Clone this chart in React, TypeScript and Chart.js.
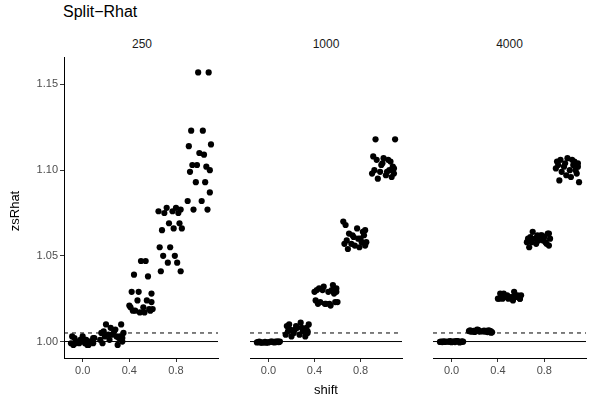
import React, { useEffect, useRef } from "react";
import { Chart, registerables } from "chart.js";
Chart.register(...registerables);

// ---------- data ----------
const FACETS = ["250", "1000", "4000"];
const SHIFTS = [0, 0.25, 0.5, 0.75, 1];
const X_TICKS = [0, 0.4, 0.8];
const Y_TICKS = [1.0, 1.05, 1.1, 1.15];
const SOLID_REF = 1.0;
const DASHED_REF = 1.005;
const X_MIN = -0.16;
const X_MAX = 1.16;
const Y_MIN = 0.9904;
const Y_MAX = 1.166;

// hand-read jitter offsets (geom_jitter, width 0.1)
const JITTER = [-0.08, 0.05, -0.03, 0.09, -0.1, 0.02, 0.07, -0.05, 0.08, -0.01, 0.03, -0.07, 0.1, -0.09, 0.0, 0.04, -0.06, 0.06, -0.02, 0.09];

// n = 250
const r250_s000 = [0.998, 0.998, 0.999, 0.999, 0.999, 0.999, 1.0, 1.0, 1.0, 1.001, 1.001, 1.002, 1.002, 1.003, 1.003, 0.998, 0.999, 1.0, 1.001, 1.002];
const r250_s025 = [1.01, 1.01, 1.008, 1.007, 1.006, 1.005, 1.005, 1.004, 1.003, 1.003, 1.002, 1.001, 1.0, 0.999, 0.998, 1.004, 1.002, 1.001, 1.006, 1.003];
const r250_s050 = [1.047, 1.047, 1.039, 1.038, 1.029, 1.028, 1.029, 1.024, 1.024, 1.023, 1.021, 1.02, 1.019, 1.018, 1.018, 1.017, 1.017, 1.018, 1.019, 1.02];
const r250_s075 = [1.078, 1.078, 1.077, 1.076, 1.076, 1.075, 1.075, 1.069, 1.069, 1.066, 1.065, 1.066, 1.055, 1.055, 1.05, 1.05, 1.046, 1.046, 1.041, 1.041];
const r250_s100 = [1.157, 1.157, 1.123, 1.123, 1.115, 1.114, 1.11, 1.109, 1.103, 1.102, 1.103, 1.1, 1.099, 1.093, 1.093, 1.087, 1.082, 1.082, 1.077, 1.077];

// n = 1000
const r1000_s000 = [0.9998, 0.9995, 1.0, 0.9997, 0.9993, 1.0001, 0.9996, 0.9999, 0.9994, 1.0, 0.9997, 0.9995, 0.9998, 0.9996, 1.0, 0.9993, 0.9997, 0.9999, 0.9995, 0.9998];
const r1000_s025 = [1.011, 1.01, 1.01, 1.009, 1.008, 1.008, 1.007, 1.007, 1.007, 1.006, 1.006, 1.006, 1.005, 1.005, 1.004, 1.004, 1.003, 1.003, 1.008, 1.009];
const r1000_s050 = [1.033, 1.032, 1.031, 1.03, 1.03, 1.03, 1.029, 1.029, 1.029, 1.028, 1.023, 1.023, 1.022, 1.022, 1.022, 1.023, 1.024, 1.022, 1.021, 1.031];
const r1000_s075 = [1.07, 1.066, 1.064, 1.063, 1.062, 1.061, 1.06, 1.059, 1.058, 1.057, 1.056, 1.055, 1.054, 1.058, 1.062, 1.065, 1.068, 1.06, 1.057, 1.056];
const r1000_s100 = [1.118, 1.118, 1.108, 1.107, 1.106, 1.106, 1.105, 1.103, 1.101, 1.1, 1.1, 1.099, 1.098, 1.098, 1.097, 1.096, 1.095, 1.102, 1.104, 1.099];

// n = 4000
const r4000_s000 = [0.9995, 1.0, 0.9998, 1.0002, 0.9997, 1.0001, 0.9999, 1.0, 0.9996, 1.0003, 0.9998, 1.0001, 0.9999, 1.0, 0.9997, 1.0002, 0.9999, 1.0, 0.9998, 1.0001];
const r4000_s025 = [1.0065, 1.006, 1.0058, 1.0062, 1.0055, 1.0068, 1.006, 1.0057, 1.0063, 1.007, 1.0052, 1.0061, 1.0059, 1.0066, 1.0056, 1.0062, 1.0058, 1.0064, 1.006, 1.0054];
const r4000_s050 = [1.028, 1.027, 1.026, 1.025, 1.025, 1.026, 1.027, 1.028, 1.026, 1.025, 1.024, 1.026, 1.027, 1.025, 1.026, 1.029, 1.025, 1.026, 1.027, 1.025];
const r4000_s075 = [1.064, 1.063, 1.062, 1.062, 1.061, 1.06, 1.06, 1.059, 1.059, 1.058, 1.058, 1.057, 1.056, 1.055, 1.061, 1.06, 1.063, 1.058, 1.062, 1.057];
const r4000_s100 = [1.107, 1.106, 1.106, 1.105, 1.104, 1.104, 1.103, 1.103, 1.102, 1.102, 1.101, 1.1, 1.1, 1.099, 1.098, 1.097, 1.096, 1.094, 1.093, 1.105];

const PANEL_VALUES = [
  [r250_s000, r250_s025, r250_s050, r250_s075, r250_s100],
  [r1000_s000, r1000_s025, r1000_s050, r1000_s075, r1000_s100],
  [r4000_s000, r4000_s025, r4000_s050, r4000_s075, r4000_s100],
];

// ---------- layout ----------
const FONT = "'Liberation Sans', Arial, Helvetica, sans-serif";
const PANEL_TOP = 57;
const PANEL_BOTTOM = 358;
const H = 402;
const PANELS = [
  { canvasLeft: 0, canvasWidth: 222, padLeft: 0, yAxisWidth: 64 },
  { canvasLeft: 246, canvasWidth: 160, padLeft: 2, yAxisWidth: 0 },
  { canvasLeft: 429, canvasWidth: 161, padLeft: 2, yAxisWidth: 0 },
];

function Panel({ idx }: { idx: number }) {
  const ref = useRef<HTMLCanvasElement>(null);
  const p = PANELS[idx];
  useEffect(() => {
    if (!ref.current) return;
    const values = PANEL_VALUES[idx];
    const pts: { x: number; y: number }[] = [];
    SHIFTS.forEach((s, i) => {
      values[i].forEach((v, j) => {
        pts.push({ x: s + JITTER[(j + i * 7 + idx * 3) % JITTER.length], y: v });
      });
    });
    const showY = idx === 0;
    const chart = new Chart(ref.current, {
      type: "scatter",
      data: {
        datasets: [
          {
            type: "line",
            data: [{ x: X_MIN, y: SOLID_REF }, { x: X_MAX, y: SOLID_REF }],
            borderColor: "#000",
            borderWidth: 1,
            pointRadius: 0,
            order: 2,
          } as any,
          {
            type: "line",
            data: [{ x: X_MIN, y: DASHED_REF }, { x: X_MAX, y: DASHED_REF }],
            borderColor: "#000",
            borderWidth: 1,
            borderDash: [4, 4],
            pointRadius: 0,
            order: 2,
          } as any,
          {
            data: pts,
            backgroundColor: "#000",
            borderColor: "#000",
            borderWidth: 0,
            pointRadius: 3.1,
            order: 1,
          },
        ],
      },
      options: {
        animation: false,
        responsive: false,
        maintainAspectRatio: false,
        devicePixelRatio: 1,
        layout: { padding: { top: PANEL_TOP, left: p.padLeft, right: 2, bottom: 0 } },
        plugins: { legend: { display: false }, tooltip: { enabled: false }, title: { display: false } },
        scales: {
          x: {
            type: "linear",
            min: X_MIN,
            max: X_MAX,
            afterBuildTicks: (s: any) => {
              s.ticks = X_TICKS.map((v) => ({ value: v }));
            },
            afterFit: (s: any) => {
              s.height = H - PANEL_BOTTOM;
            },
            grid: { drawOnChartArea: false, drawTicks: true, tickLength: 4, tickColor: "#333", color: "#333" },
            border: { display: true, color: "#000", width: 1 },
            ticks: {
              color: "#4d4d4d",
              font: { family: FONT, size: 11 },
              padding: 2,
              maxRotation: 0,
              autoSkip: false,
              callback: (v: any) => Number(v).toFixed(1),
            },
          },
          y: {
            type: "linear",
            display: showY,
            min: Y_MIN,
            max: Y_MAX,
            afterBuildTicks: (s: any) => {
              s.ticks = Y_TICKS.map((v) => ({ value: v }));
            },
            afterFit: (s: any) => {
              s.width = p.yAxisWidth;
            },
            grid: { drawOnChartArea: false, drawTicks: true, tickLength: 4, tickColor: "#333", color: "#333" },
            border: { display: true, color: "#000", width: 1 },
            ticks: {
              color: "#4d4d4d",
              font: { family: FONT, size: 11 },
              padding: 2,
              autoSkip: false,
              callback: (v: any) => Number(v).toFixed(2),
            },
          },
        },
      },
    });
    return () => chart.destroy();
  }, [idx]);
  return (
    <canvas
      ref={ref}
      width={p.canvasWidth}
      height={H}
      style={{ position: "absolute", left: p.canvasLeft, top: 0, width: p.canvasWidth, height: H }}
    />
  );
}

const PANEL_CENTERS = [142, 326, 509.5];

export default function App() {
  return (
    <div style={{ position: "absolute", left: 0, top: 0, width: 596, height: 402, background: "#fff", fontFamily: FONT, overflow: "hidden" }}>
      <div style={{ position: "absolute", left: 63, top: 3, fontSize: 16, color: "#000", whiteSpace: "nowrap" }}>Split−Rhat</div>
      {FACETS.map((f, i) => (
        <div
          key={f}
          style={{ position: "absolute", left: PANEL_CENTERS[i] - 40, width: 80, top: 37, textAlign: "center", fontSize: 12, color: "#1a1a1a" }}
        >
          {f}
        </div>
      ))}
      {PANELS.map((_, i) => (
        <Panel key={i} idx={i} />
      ))}
      <div
        style={{
          position: "absolute",
          left: 15 - 40,
          top: 211 - 9,
          width: 80,
          height: 18,
          textAlign: "center",
          fontSize: 13,
          color: "#000",
          transform: "rotate(-90deg)",
          lineHeight: "18px",
        }}
      >
        zsRhat
      </div>
      <div style={{ position: "absolute", left: 326 - 40, width: 80, top: 381, textAlign: "center", fontSize: 13, color: "#000", lineHeight: "18px" }}>
        shift
      </div>
    </div>
  );
}
